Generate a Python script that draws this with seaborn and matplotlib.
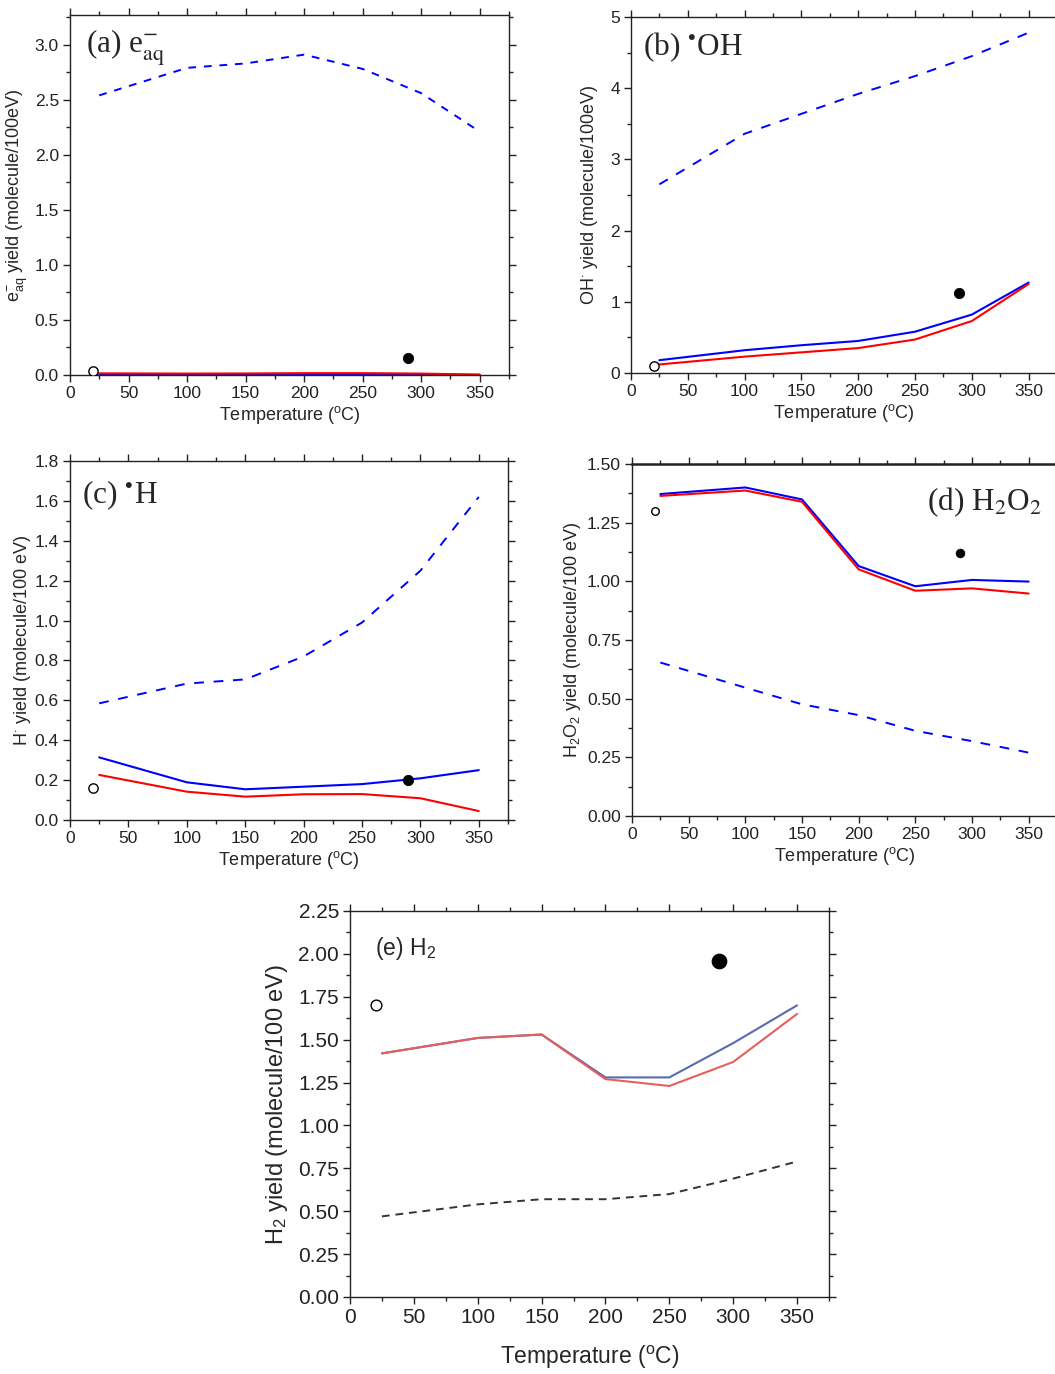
import numpy as np
import pandas as pd
import matplotlib
matplotlib.use("Agg")
import matplotlib.pyplot as plt
from matplotlib.ticker import MultipleLocator
import seaborn as sns

# ---------------- data ----------------
T = [25, 100, 150, 200, 250, 300, 350]

ea_dash = [2.54, 2.79, 2.83, 2.91, 2.78, 2.56, 2.21]
ea_blue = [0.005, 0.005, 0.006, 0.007, 0.007, 0.005, 0.002]
ea_red = [0.015, 0.013, 0.014, 0.017, 0.017, 0.013, 0.003]
ea_open = (20, 0.04)
ea_fill = (289, 0.15)

oh_dash = [2.65, 3.36, 3.64, 3.92, 4.17, 4.45, 4.78]
oh_blue = [0.18, 0.32, 0.39, 0.45, 0.58, 0.82, 1.27]
oh_red = [0.12, 0.23, 0.29, 0.35, 0.47, 0.73, 1.25]
oh_open = (20, 0.10)
oh_fill = (289, 1.13)

h_dash = [0.585, 0.684, 0.705, 0.82, 0.99, 1.25, 1.62]
h_blue = [0.314, 0.189, 0.154, 0.167, 0.18, 0.209, 0.25]
h_red = [0.226, 0.142, 0.117, 0.129, 0.13, 0.109, 0.045]
h_open = (20, 0.16)
h_fill = (289, 0.20)

hp_dash = [0.654, 0.547, 0.476, 0.43, 0.363, 0.319, 0.27]
hp_blue = [1.372, 1.400, 1.349, 1.065, 0.979, 1.006, 0.999]
hp_red = [1.364, 1.387, 1.339, 1.051, 0.960, 0.970, 0.948]
hp_open = (20, 1.30)
hp_fill = (289, 1.12)

h2_dash = [0.47, 0.54, 0.57, 0.57, 0.60, 0.69, 0.79]
h2_blue = [1.42, 1.51, 1.53, 1.28, 1.28, 1.48, 1.70]
h2_red = [1.42, 1.51, 1.53, 1.27, 1.23, 1.37, 1.65]
h2_open = (20, 1.70)
h2_fill = (289, 1.96)

# ---------------- style ----------------
sns.set_theme(style="ticks")
plt.rcParams["font.family"] = ["Liberation Sans", "DejaVu Sans"]
plt.rcParams["mathtext.fontset"] = "custom"
plt.rcParams["mathtext.rm"] = "Liberation Sans"
plt.rcParams["mathtext.it"] = "Liberation Sans:italic"
plt.rcParams["mathtext.bf"] = "Liberation Sans:bold"
plt.rcParams["axes.linewidth"] = 1.0
plt.rcParams["axes.edgecolor"] = "#222222"

W, H = 1055, 1374
fig = plt.figure(figsize=(W / 100, H / 100), dpi=100)


def make_ax(left, right, top, bottom):
    return fig.add_axes([left / W, 1 - bottom / H, (right - left) / W, (bottom - top) / H])


def style_ax(ax, ymax, ymaj, ymin, fs=12.5, lab_fs=13, xlabelpad=2):
    ax.set_xlim(0, 375)
    ax.set_ylim(0, ymax)
    ax.xaxis.set_major_locator(MultipleLocator(50))
    ax.xaxis.set_minor_locator(MultipleLocator(25))
    ax.yaxis.set_major_locator(MultipleLocator(ymaj))
    ax.yaxis.set_minor_locator(MultipleLocator(ymin))
    ax.tick_params(which="both", direction="out", top=True, right=True,
                   labeltop=False, labelright=False, colors="#222222",
                   width=1.0, labelsize=fs)
    ax.tick_params(which="major", length=5, pad=3)
    ax.tick_params(which="minor", length=3)
    ax.set_xlabel("Temperature ($^{\\rm o}$C)", fontsize=lab_fs, labelpad=xlabelpad)
    for s in ax.spines.values():
        s.set_visible(True)


def draw(ax, dash, blue, red, opn, fil, cblue="#0000ff", cred="#ff0000",
         cdash="#0000ff", ms_open=45, ms_fill=55, dashes=(4, 4)):
    df = pd.DataFrame({"T": T, "dash": dash, "blue": blue, "red": red})
    sns.lineplot(data=df, x="T", y="dash", ax=ax, color=cdash, lw=1.4,
                 linestyle=(0, dashes))
    sns.lineplot(data=df, x="T", y="blue", ax=ax, color=cblue, lw=1.5)
    sns.lineplot(data=df, x="T", y="red", ax=ax, color=cred, lw=1.5)
    sns.scatterplot(x=[opn[0]], y=[opn[1]], ax=ax, s=ms_open, facecolor="white",
                    edgecolor="black", linewidth=1.0, zorder=5)
    sns.scatterplot(x=[fil[0]], y=[fil[1]], ax=ax, s=ms_fill, color="black",
                    edgecolor="black", zorder=5)


serif = ["Liberation Serif", "DejaVu Serif"]
PFS = 22.5

# (a)
ax = make_ax(70, 509, 15, 375)
draw(ax, ea_dash, ea_blue, ea_red, ea_open, ea_fill)
style_ax(ax, 3.27, 0.5, 0.25)
ax.yaxis.set_major_formatter(matplotlib.ticker.FormatStrFormatter("%.1f"))
ax.set_ylabel("e$^{-}_{\\rm aq}$ yield (molecule/100eV)", fontsize=13, labelpad=3)
ax.text(0.036, 0.91, "(a) e$^{-}_{\\rm aq}$", transform=ax.transAxes, fontsize=PFS,
        family=serif, math_fontfamily="stix", va="center", ha="left")

# (b)
ax = make_ax(631, 1057, 17, 373)
draw(ax, oh_dash, oh_blue, oh_red, oh_open, oh_fill, dashes=(5, 5))
style_ax(ax, 5, 1, 0.5)
ax.set_ylabel("OH$^{\\cdot}$ yield (molecule/100eV)", fontsize=13, labelpad=7)
ax.text(0.028, 0.915, "(b) $^{\\bullet}$OH", transform=ax.transAxes, fontsize=PFS,
        family=serif, math_fontfamily="stix", va="center", ha="left")

# (c)
ax = make_ax(70, 508, 461, 820)
draw(ax, h_dash, h_blue, h_red, h_open, h_fill, dashes=(5, 5))
style_ax(ax, 1.8, 0.2, 0.1)
ax.yaxis.set_major_formatter(matplotlib.ticker.FormatStrFormatter("%.1f"))
ax.set_ylabel("H$^{\\cdot}$ yield (molecule/100 eV)", fontsize=13, labelpad=1)
ax.text(0.027, 0.905, "(c) $^{\\bullet}$H", transform=ax.transAxes, fontsize=PFS,
        family=serif, math_fontfamily="stix", va="center", ha="left")

# (d)
ax = make_ax(632, 1057, 464, 816)
draw(ax, hp_dash, hp_blue, hp_red, hp_open, hp_fill, ms_open=30, ms_fill=40,
     dashes=(5, 5))
style_ax(ax, 1.5, 0.25, 0.125)
ax.yaxis.set_major_formatter(matplotlib.ticker.FormatStrFormatter("%.2f"))
ax.spines["top"].set_linewidth(1.8)
ax.set_ylabel("H$_2$O$_2$ yield (molecule/100 eV)", fontsize=13, labelpad=3)
ax.text(0.965, 0.892, "(d) H$_2$O$_2$", transform=ax.transAxes, fontsize=PFS,
        family=serif, math_fontfamily="stix", va="center", ha="right")

# (e)
ax = make_ax(350, 829, 911, 1297)
draw(ax, h2_dash, h2_blue, h2_red, h2_open, h2_fill, cblue="#5a6aae",
     cred="#e4605e", cdash="#333333", ms_open=60, ms_fill=110, dashes=(4, 3))
style_ax(ax, 2.25, 0.25, 0.125, fs=15, lab_fs=16.5, xlabelpad=12)
ax.yaxis.set_major_formatter(matplotlib.ticker.FormatStrFormatter("%.2f"))
ax.set_ylabel("H$_2$ yield (molecule/100 eV)", fontsize=17, labelpad=6)
ax.text(0.052, 0.904, "(e) H$_2$", transform=ax.transAxes, fontsize=16.5,
        va="center", ha="left")

fig.savefig("out.png", dpi=100)
